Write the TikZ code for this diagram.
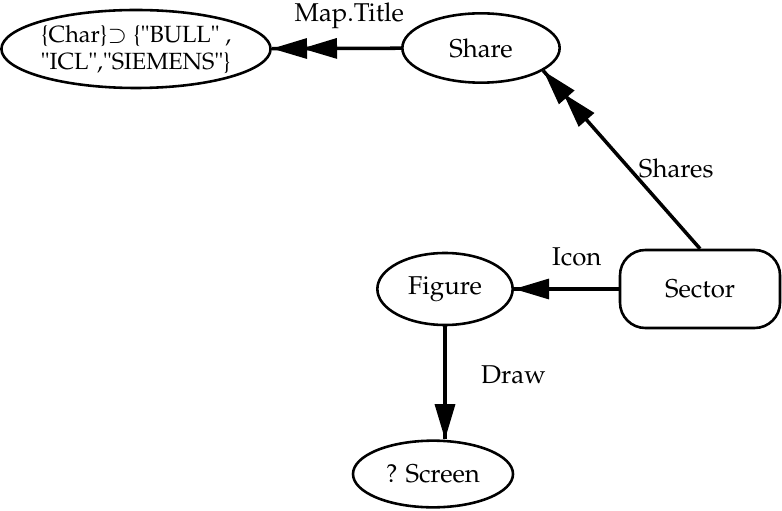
\documentclass[tikz,border=0pt]{standalone}
\usepackage[T1]{fontenc}
\usepackage{mathpazo}
\usepackage{tikz}
\usetikzlibrary{arrows.meta}
\usetikzlibrary{decorations.markings}
\usetikzlibrary{shapes.geometric}
\tikzset{onetip/.style = {decoration={markings,
                                  mark=at position 1 with {\arrow{Triangle[length=15pt, width=8.5pt]}}},
                      postaction={decorate}}}
\tikzset{twotips/.style = {decoration={markings,
                                  mark=at position -0.45cm with {\arrow{Triangle[length=15pt, width=8.5pt]}},
                                  mark=at position 1 with {\arrow{Triangle[length=15pt, width=8.5pt]}}},
                      postaction={decorate}}}
\tikzset{obj/.style = {draw, line width=1.1pt, ellipse, inner sep=0pt}}
\tikzset{link/.style = {line width=1.5pt}}

\begin{document}
\begin{tikzpicture}[font=\fontsize{11}{13}\selectfont]
    \useasboundingbox (0, 0) rectangle (11.73, 7.65);
    \node [obj, minimum width=3.78cm, minimum height=1.17cm, align=center,
           font=\fontsize{10}{11.5}\selectfont] (chars) at (2.04, 6.915)
          {\{Char\}$\supset$ \{"BULL" ,\\"ICL","SIEMENS"\}};
    \node [obj, minimum width=2.36cm, minimum height=1.04cm] (share) at (7.215, 6.93) {Share};
    \node [draw, line width=1.1pt, rounded corners=0.38cm, minimum width=2.4cm, minimum height=1.17cm]
          (sector) at (10.5, 3.315) {Sector};
    \node [obj, minimum width=2.03cm, minimum height=1.08cm] (figure) at (6.675, 3.315) {Figure};
    \node [obj, minimum width=2.4cm, minimum height=1.0cm] (screen) at (6.495, 0.54) {? Screen};
    \draw [link, twotips] (share) -- node [above=0.15cm, pos=0.4] {Map.Title} (chars);
    \draw [link, twotips] (sector.north) -- node [right, pos=0.45] {Shares} (share.-20);
    \draw [link, onetip] (sector) -- node [above=0.2cm, pos=0.4] {Icon} (figure);
    \draw [link, onetip] (figure.south) -- node [right=0.4cm, pos=0.43] {Draw}
          (figure.south |- screen.north);
  \end{tikzpicture}
\end{document}
